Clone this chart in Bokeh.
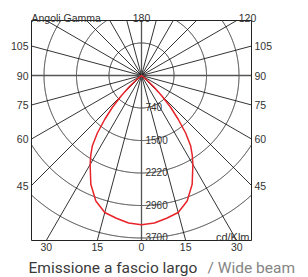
import numpy as np
from bokeh.plotting import figure
from bokeh.models import Range1d
from bokeh.core.properties import value
from bokeh.embed import file_html
from bokeh.resources import INLINE

# ---- data ----
gamma_deg = [0, 5, 10, 15, 20, 25, 30, 32.5, 35, 37.5, 40, 42.5, 45, 47.5, 50, 55]
intensity = [3400, 3370, 3300, 3230, 3040, 2730, 2340, 2150, 1950, 1650, 1300, 980, 650, 370, 150, 0]
ring_values = [740, 1480, 2220, 2960, 3700]
ring_labels = ["740", "1500", "2220", "2960", "3700"]
side_angles = [105, 90, 75, 60, 45]
side_labels = ["105", "90", "75", "60", "45"]
bottom_angles = [-30, -15, 0, 15, 30]
bottom_labels = ["30", "15", "0", "15", "30"]
top_labels = ["180", "120"]
spoke_step = 15
unit_label = "cd/Klm"
title_main = "Emissione a fascio largo"
title_sub = "/ Wide beam"
corner_label = "Angoli Gamma"

# ---- geometry (chart units = cd/klm, px = size of one screen pixel) ----
px = 740 / 32.5
W = 110 * px      # half width of the box
Ht = 55 * px      # box top above centre
Hb = 165 * px     # box bottom below centre

FONT = value("Liberation Sans")
TFONT = value("Roboto")
TXT = "#333333"

p = figure(width=308, height=277,
           x_range=Range1d(-141 * px, 167 * px), y_range=Range1d(-202 * px, 75 * px),
           output_backend="svg", toolbar_location=None,
           x_axis_location=None, y_axis_location=None,
           min_border=0)
p.xgrid.visible = False
p.ygrid.visible = False
p.outline_line_color = None
p.background_fill_color = "white"
p.border_fill_color = "white"

# ---- rings (clipped to the box) ----
t = np.linspace(-np.pi / 2, 1.5 * np.pi, 7201)
for r in ring_values:
    x = r * np.cos(t)
    y = r * np.sin(t)
    inside = (np.abs(x) <= W) & (y <= Ht) & (y >= -Hb)
    x = np.where(inside, x, np.nan)
    y = np.where(inside, y, np.nan)
    p.line(x, y, line_color="black", line_width=0.8)

# ---- spokes (clipped to the box) ----
def edge_point(g_deg):
    g = np.deg2rad(g_deg)
    dx, dy = np.sin(g), -np.cos(g)
    ts = []
    if abs(dx) > 1e-9:
        ts.append(W / abs(dx))
    if dy > 1e-9:
        ts.append(Ht / dy)
    elif dy < -1e-9:
        ts.append(Hb / -dy)
    tt = min(ts)
    return tt * dx, tt * dy

black = [a for a in range(0, 360, spoke_step) if a % 90 != 0]
grey = [a for a in range(0, 360, 90)]
ex, ey = zip(*[edge_point(a) for a in black])
p.segment(x0=[0] * len(ex), y0=[0] * len(ex), x1=list(ex), y1=list(ey),
          line_color="black", line_width=0.8)
gx, gy = zip(*[edge_point(a) for a in grey])
p.segment(x0=[0] * len(gx), y0=[0] * len(gx), x1=list(gx), y1=list(gy),
          line_color="#555555", line_width=1.3)

# ---- box ----
p.quad(left=[-W], right=[W], top=[Ht], bottom=[-Hb], fill_color=None,
       line_color="#222222", line_width=1)

# ---- photometric curve ----
g_full = [-g for g in reversed(gamma_deg[1:])] + gamma_deg
i_full = list(reversed(intensity[1:])) + intensity
g_rad = np.deg2rad(g_full)
cx = np.array(i_full) * np.sin(g_rad)
cy = -np.array(i_full) * np.cos(g_rad)
p.line(cx, cy, line_color="#e8242a", line_width=1.5, line_join="round")

# ---- ring labels ----
p.text(x=[4 * px] * len(ring_values), y=[-v + 1 * px for v in ring_values], text=ring_labels,
       text_font=FONT, text_font_size="10px", text_color=TXT,
       text_baseline="alphabetic", text_align="left")

# ---- side labels (where each gamma line meets the box side) ----
side_y = [-W / np.tan(np.deg2rad(a)) for a in side_angles]
p.text(x=[-W - 3 * px] * len(side_y), y=side_y, text=side_labels, text_font=FONT,
       text_font_size="10.5px", text_color=TXT, text_baseline="middle", text_align="right")
p.text(x=[W + 3 * px] * len(side_y), y=side_y, text=side_labels, text_font=FONT,
       text_font_size="10.5px", text_color=TXT, text_baseline="middle", text_align="left")

# ---- bottom labels (where each gamma line meets the box bottom) ----
bot_x = [np.sign(a) * Hb * np.tan(np.deg2rad(abs(a))) for a in bottom_angles]
p.text(x=bot_x, y=[-Hb - 2 * px] * len(bot_x), text=bottom_labels, text_font=FONT,
       text_font_size="10.5px", text_color=TXT, text_baseline="top", text_align="center")

# ---- top labels ----
p.text(x=[-W], y=[Ht + 3 * px], text=[corner_label], text_font=FONT, text_font_size="10.5px",
       text_color=TXT, text_baseline="alphabetic", text_align="left")
p.text(x=[0, W - 4 * px], y=[Ht + 3 * px] * 2, text=top_labels, text_font=FONT,
       text_font_size="10.5px", text_color=TXT, text_baseline="alphabetic", text_align="center")

# ---- unit label ----
p.text(x=[W - 2 * px], y=[-Hb + 4 * px], text=[unit_label], text_font=FONT,
       text_font_size="11px", text_color=TXT, text_baseline="alphabetic", text_align="right")

# ---- title ----
p.text(x=[-W - 3 * px], y=[-Hb - 27 * px], text=[title_main], text_font=TFONT,
       text_font_size="15.5px", text_color="#3a3a3a", text_baseline="alphabetic", text_align="left")
p.text(x=[66 * px], y=[-Hb - 27 * px], text=[title_sub], text_font=TFONT,
       text_font_size="15.5px", text_color="#858585", text_baseline="alphabetic", text_align="left")

open("out.html", "w").write(file_html(p, INLINE))
